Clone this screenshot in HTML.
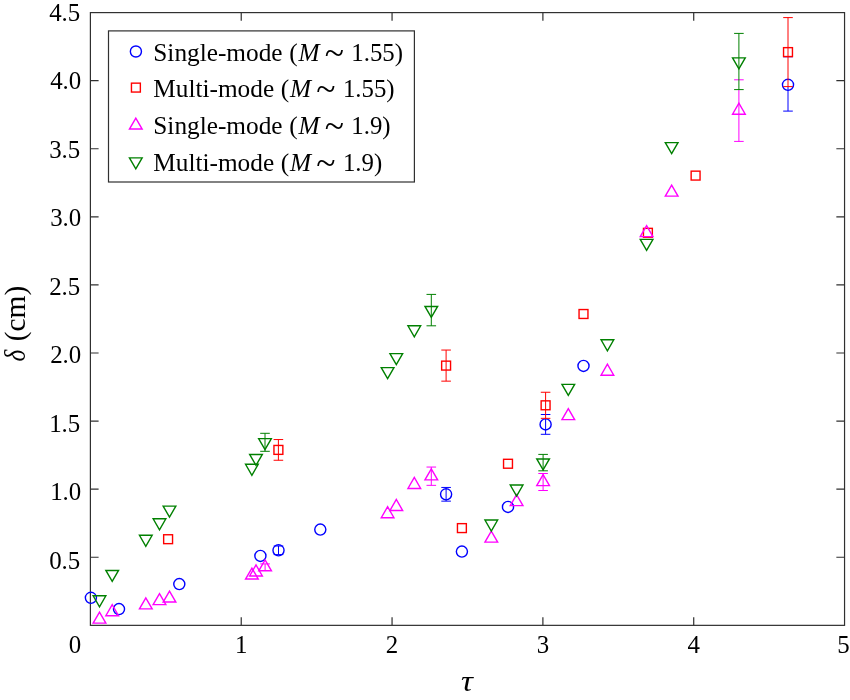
<!DOCTYPE html>
<html lang="en"><head><meta charset="utf-8"><title>Mixing width versus time</title>
<style>html,body{margin:0;padding:0;background:#fff}svg{display:block}text{font-family:"Liberation Serif",serif;fill:#000}</style></head>
<body><svg width="850" height="700" viewBox="0 0 850 700">
<rect width="850" height="700" fill="#fff"/>
<rect x="90.4" y="12.6" width="754.15" height="612.75" fill="none" stroke="#303030" stroke-width="1.2"/>
<path d="M241.23 625.35v-8.2M241.23 12.6v8.2M392.06 625.35v-8.2M392.06 12.6v8.2M542.89 625.35v-8.2M542.89 12.6v8.2M693.72 625.35v-8.2M693.72 12.6v8.2M90.4 557.27h8.2M844.55 557.27h-8.2M90.4 489.18h8.2M844.55 489.18h-8.2M90.4 421.1h8.2M844.55 421.1h-8.2M90.4 353.02h8.2M844.55 353.02h-8.2M90.4 284.93h8.2M844.55 284.93h-8.2M90.4 216.85h8.2M844.55 216.85h-8.2M90.4 148.77h8.2M844.55 148.77h-8.2M90.4 80.68h8.2M844.55 80.68h-8.2" fill="none" stroke="#303030" stroke-width="1.2"/>
<g font-size="25.7"><text transform="translate(75,653) scale(0.97,1)" text-anchor="middle">0</text><text transform="translate(241.23,653) scale(0.97,1)" text-anchor="middle">1</text><text transform="translate(392.06,653) scale(0.97,1)" text-anchor="middle">2</text><text transform="translate(542.89,653) scale(0.97,1)" text-anchor="middle">3</text><text transform="translate(693.72,653) scale(0.97,1)" text-anchor="middle">4</text><text transform="translate(843.6,653) scale(0.97,1)" text-anchor="middle">5</text><text transform="translate(80.3,569) scale(0.97,1)" text-anchor="end">0.5</text><text transform="translate(81.3,500) scale(0.97,1)" text-anchor="end">1.0</text><text transform="translate(80.3,432) scale(0.97,1)" text-anchor="end">1.5</text><text transform="translate(81.3,363) scale(0.97,1)" text-anchor="end">2.0</text><text transform="translate(80.3,295) scale(0.97,1)" text-anchor="end">2.5</text><text transform="translate(81.3,226) scale(0.97,1)" text-anchor="end">3.0</text><text transform="translate(80.3,158) scale(0.97,1)" text-anchor="end">3.5</text><text transform="translate(81.3,89) scale(0.97,1)" text-anchor="end">4.0</text><text transform="translate(80.3,21) scale(0.97,1)" text-anchor="end">4.5</text></g>
<text transform="translate(460.9,691.4) scale(1.13,1)" font-style="italic" font-size="29.5">τ</text>
<text transform="translate(25,361.6) rotate(-90) scale(0.86,1)" font-size="29.5" font-style="italic">δ</text>
<text transform="translate(25,341.3) rotate(-90)" font-size="29.5">(cm)</text>
<g fill="none" stroke-width="1.4" stroke-linejoin="miter" stroke-miterlimit="10"><circle cx="90.9" cy="597.8" r="5.55" stroke="#0000ff"/>
<circle cx="119" cy="609.1" r="5.55" stroke="#0000ff"/>
<circle cx="179.3" cy="584.1" r="5.55" stroke="#0000ff"/>
<circle cx="260.4" cy="555.9" r="5.55" stroke="#0000ff"/>
<path d="M278.5 546V554.6M273.7 554.6H283.3M273.7 546H283.3" stroke="#0000ff" stroke-width="1.0"/><circle cx="278.5" cy="550.3" r="5.55" stroke="#0000ff"/>
<circle cx="320.3" cy="529.6" r="5.55" stroke="#0000ff"/>
<path d="M446.1 487.45V501.15M441.3 501.15H450.9M441.3 487.45H450.9" stroke="#0000ff" stroke-width="1.0"/><circle cx="446.1" cy="494.3" r="5.55" stroke="#0000ff"/>
<circle cx="461.9" cy="551.6" r="5.55" stroke="#0000ff"/>
<circle cx="508" cy="506.9" r="5.55" stroke="#0000ff"/>
<path d="M545.6 418.4V434.3M540.8 434.3H550.4M540.8 414.5H550.4" stroke="#0000ff" stroke-width="1.0"/><circle cx="545.6" cy="424.4" r="5.55" stroke="#0000ff"/>
<circle cx="583.5" cy="365.9" r="5.55" stroke="#0000ff"/>
<path d="M788 86.6V111.1M783.2 111.1H792.8M783.2 56.8H792.8" stroke="#0000ff" stroke-width="1.0"/><circle cx="788" cy="84.8" r="5.55" stroke="#0000ff"/>
<rect x="163.65" y="534.75" width="8.9" height="8.9" stroke="#ff0000"/>
<path d="M278.4 439.55V460.25M273.6 460.25H283.2M273.6 439.55H283.2" stroke="#ff0000" stroke-width="1.0"/><rect x="273.95" y="445.45" width="8.9" height="8.9" stroke="#ff0000"/>
<path d="M446.1 350.05V381.15M441.3 381.15H450.9M441.3 350.05H450.9" stroke="#ff0000" stroke-width="1.0"/><rect x="441.65" y="361.15" width="8.9" height="8.9" stroke="#ff0000"/>
<rect x="457.45" y="523.65" width="8.9" height="8.9" stroke="#ff0000"/>
<rect x="503.55" y="459.3" width="8.9" height="8.9" stroke="#ff0000"/>
<path d="M545.6 392.25V418.35M540.8 418.35H550.4M540.8 392.25H550.4" stroke="#ff0000" stroke-width="1.0"/><rect x="541.15" y="400.85" width="8.9" height="8.9" stroke="#ff0000"/>
<rect x="579.05" y="309.55" width="8.9" height="8.9" stroke="#ff0000"/>
<rect x="643.45" y="228.35" width="8.9" height="8.9" stroke="#ff0000"/>
<rect x="691.15" y="171.15" width="8.9" height="8.9" stroke="#ff0000"/>
<path d="M788 17.6V86.6M783.2 86.6H792.8M783.2 17.6H792.8" stroke="#ff0000" stroke-width="1.0"/><rect x="783.55" y="47.65" width="8.9" height="8.9" stroke="#ff0000"/>
<path d="M93.15 623.17L105.85 623.17L99.5 612.17Z" stroke="#ff00ff"/>
<path d="M105.85 615.77L118.55 615.77L112.2 604.77Z" stroke="#ff00ff"/>
<path d="M139.45 608.87L152.15 608.87L145.8 597.87Z" stroke="#ff00ff"/>
<path d="M153.15 604.67L165.85 604.67L159.5 593.67Z" stroke="#ff00ff"/>
<path d="M163.15 602.07L175.85 602.07L169.5 591.07Z" stroke="#ff00ff"/>
<path d="M245.55 579.07L258.25 579.07L251.9 568.07Z" stroke="#ff00ff"/>
<path d="M249.65 575.97L262.35 575.97L256 564.97Z" stroke="#ff00ff"/>
<path d="M265.1 563.9V570.5M260.3 570.5H269.9M260.3 563.9H269.9" stroke="#ff00ff" stroke-width="1.0"/><path d="M258.75 570.87L271.45 570.87L265.1 559.87Z" stroke="#ff00ff"/>
<path d="M381.25 517.77L393.95 517.77L387.6 506.77Z" stroke="#ff00ff"/>
<path d="M389.95 510.52L402.65 510.52L396.3 499.52Z" stroke="#ff00ff"/>
<path d="M407.95 488.47L420.65 488.47L414.3 477.47Z" stroke="#ff00ff"/>
<path d="M431.3 467.05V485.35M426.5 485.35H436.1M426.5 467.05H436.1" stroke="#ff00ff" stroke-width="1.0"/><path d="M424.95 479.87L437.65 479.87L431.3 468.87Z" stroke="#ff00ff"/>
<path d="M484.95 542.17L497.65 542.17L491.3 531.17Z" stroke="#ff00ff"/>
<path d="M510.25 505.67L522.95 505.67L516.6 494.67Z" stroke="#ff00ff"/>
<path d="M543.1 473.5V490.5M538.3 490.5H547.9M538.3 473.5H547.9" stroke="#ff00ff" stroke-width="1.0"/><path d="M536.75 485.67L549.45 485.67L543.1 474.67Z" stroke="#ff00ff"/>
<path d="M561.95 419.67L574.65 419.67L568.3 408.67Z" stroke="#ff00ff"/>
<path d="M601.05 375.27L613.75 375.27L607.4 364.27Z" stroke="#ff00ff"/>
<path d="M640.25 236.67L652.95 236.67L646.6 225.67Z" stroke="#ff00ff"/>
<path d="M665.3 196.12L678 196.12L671.65 185.12Z" stroke="#ff00ff"/>
<path d="M738.9 89.6V141.4M734.1 141.4H743.7M734.1 79.8H743.7" stroke="#ff00ff" stroke-width="1.0"/><path d="M732.55 114.27L745.25 114.27L738.9 103.27Z" stroke="#ff00ff"/>
<path d="M93.15 595.73L105.85 595.73L99.5 606.73Z" stroke="#008000"/>
<path d="M105.85 570.43L118.55 570.43L112.2 581.43Z" stroke="#008000"/>
<path d="M139.45 535.23L152.15 535.23L145.8 546.23Z" stroke="#008000"/>
<path d="M153.15 518.73L165.85 518.73L159.5 529.73Z" stroke="#008000"/>
<path d="M163.15 506.13L175.85 506.13L169.5 517.13Z" stroke="#008000"/>
<path d="M245.55 464.23L258.25 464.23L251.9 475.23Z" stroke="#008000"/>
<path d="M249.65 454.43L262.35 454.43L256 465.43Z" stroke="#008000"/>
<path d="M265 433.3V451.3M260.2 451.3H269.8M260.2 433.3H269.8" stroke="#008000" stroke-width="1.0"/><path d="M258.65 438.63L271.35 438.63L265 449.63Z" stroke="#008000"/>
<path d="M381.25 367.63L393.95 367.63L387.6 378.63Z" stroke="#008000"/>
<path d="M389.95 353.63L402.65 353.63L396.3 364.63Z" stroke="#008000"/>
<path d="M407.95 325.78L420.65 325.78L414.3 336.78Z" stroke="#008000"/>
<path d="M431.3 294.4V325.8M426.5 325.8H436.1M426.5 294.4H436.1" stroke="#008000" stroke-width="1.0"/><path d="M424.95 306.43L437.65 306.43L431.3 317.43Z" stroke="#008000"/>
<path d="M484.95 520.03L497.65 520.03L491.3 531.03Z" stroke="#008000"/>
<path d="M510.25 485.03L522.95 485.03L516.6 496.03Z" stroke="#008000"/>
<path d="M543.1 454.4V470.8M538.3 470.8H547.9M538.3 454.4H547.9" stroke="#008000" stroke-width="1.0"/><path d="M536.75 458.93L549.45 458.93L543.1 469.93Z" stroke="#008000"/>
<path d="M561.95 384.38L574.65 384.38L568.3 395.38Z" stroke="#008000"/>
<path d="M601.05 339.73L613.75 339.73L607.4 350.73Z" stroke="#008000"/>
<path d="M640.25 239.33L652.95 239.33L646.6 250.33Z" stroke="#008000"/>
<path d="M665.3 142.58L678 142.58L671.65 153.58Z" stroke="#008000"/>
<path d="M738.9 33.4V89.6M734.1 89.6H743.7M734.1 33.4H743.7" stroke="#008000" stroke-width="1.0"/><path d="M732.55 57.83L745.25 57.83L738.9 68.83Z" stroke="#008000"/></g>
<rect x="108.5" y="30.9" width="305.9" height="151.1" fill="#fff" stroke="#303030" stroke-width="1.2"/>
<g fill="none" stroke-width="1.4"><circle cx="135.9" cy="51.5" r="5.55" stroke="#0000ff"/><rect x="131.45" y="83.15" width="8.9" height="8.9" stroke="#ff0000"/><path d="M129.45 129.07L142.15 129.07L135.8 118.07Z" stroke="#ff00ff"/><path d="M129.45 157.83L142.15 157.83L135.8 168.83Z" stroke="#008000"/></g>
<g font-size="25.3"><text y="60.6"><tspan x="153.3">Single-mode </tspan><tspan x="289.2">(</tspan><tspan x="298.5" font-style="italic">M </tspan><tspan x="324.7" dy="4" font-size="35.5">~ </tspan><tspan x="351.3" dy="-4" font-size="24.8">1.55)</tspan></text><text y="97.3"><tspan x="153.3">Multi-mode </tspan><tspan x="280.8">(</tspan><tspan x="290.1" font-style="italic">M </tspan><tspan x="316.3" dy="4" font-size="35.5">~ </tspan><tspan x="342.9" dy="-4" font-size="24.8">1.55)</tspan></text><text y="134.0"><tspan x="153.3">Single-mode </tspan><tspan x="289.2">(</tspan><tspan x="298.5" font-style="italic">M </tspan><tspan x="324.7" dy="4" font-size="35.5">~ </tspan><tspan x="351.3" dy="-4" font-size="24.8">1.9)</tspan></text><text y="170.7"><tspan x="153.3">Multi-mode </tspan><tspan x="280.8">(</tspan><tspan x="290.1" font-style="italic">M </tspan><tspan x="316.3" dy="4" font-size="35.5">~ </tspan><tspan x="342.9" dy="-4" font-size="24.8">1.9)</tspan></text></g>
</svg></body></html>
